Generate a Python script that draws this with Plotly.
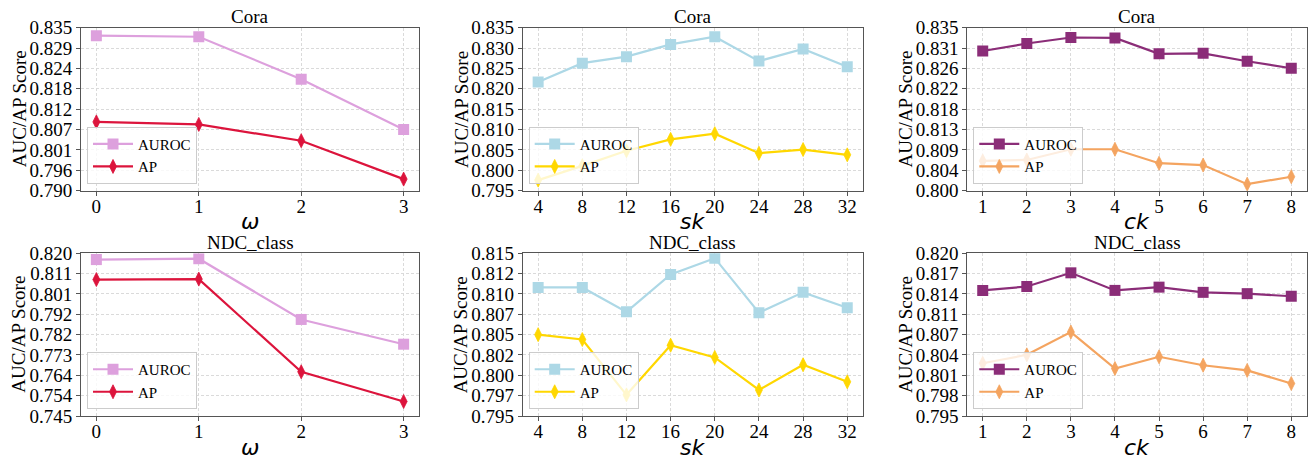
import numpy as np
import plotly.graph_objects as go

W, H = 1312, 460

# ---------------- data ----------------
omega = [0, 1, 2, 3]
sk = [4, 8, 12, 16, 20, 24, 28, 32]
ck = [1, 2, 3, 4, 5, 6, 7, 8]

cora_omega_auroc = [0.8328, 0.8325, 0.8208, 0.8069]
cora_omega_ap = [0.8090, 0.8083, 0.8038, 0.7932]
ndc_omega_auroc = [0.8171, 0.8175, 0.7895, 0.7781]
ndc_omega_ap = [0.8079, 0.8081, 0.7654, 0.7517]

cora_sk_auroc = [0.8217, 0.8263, 0.8279, 0.8309, 0.8328, 0.8268, 0.8298, 0.8254]
cora_sk_ap = [0.7976, 0.8011, 0.8048, 0.8076, 0.8090, 0.8042, 0.8051, 0.8038]
ndc_sk_auroc = [0.8108, 0.8108, 0.8078, 0.8124, 0.8144, 0.8077, 0.8102, 0.8083]
ndc_sk_ap = [0.8050, 0.8044, 0.7976, 0.8037, 0.8022, 0.7982, 0.8013, 0.7992]

cora_ck_auroc = [0.8300, 0.8316, 0.8329, 0.8328, 0.8294, 0.8295, 0.8278, 0.8263]
cora_ck_ap = [0.8064, 0.8066, 0.8089, 0.8089, 0.8059, 0.8055, 0.8014, 0.8030]
ndc_ck_auroc = [0.8143, 0.8149, 0.8170, 0.8143, 0.8148, 0.8140, 0.8138, 0.8134]
ndc_ck_ap = [0.8031, 0.8044, 0.8079, 0.8023, 0.8041, 0.8028, 0.8020, 0.8000]

ytick_cora_omega = ["0.790", "0.796", "0.801", "0.807", "0.812", "0.818", "0.824", "0.829", "0.835"]
ytick_ndc_omega = ["0.745", "0.754", "0.764", "0.773", "0.782", "0.792", "0.801", "0.811", "0.820"]
ytick_cora_sk = ["0.795", "0.800", "0.805", "0.810", "0.815", "0.820", "0.825", "0.830", "0.835"]
ytick_ndc_sk = ["0.795", "0.797", "0.800", "0.802", "0.805", "0.807", "0.810", "0.812", "0.815"]
ytick_cora_ck = ["0.800", "0.804", "0.809", "0.813", "0.818", "0.822", "0.826", "0.831", "0.835"]
ytick_ndc_ck = ["0.795", "0.798", "0.801", "0.804", "0.807", "0.811", "0.814", "0.817", "0.820"]

yranges = {
    "cora_omega": (0.790, 0.835), "ndc_omega": (0.745, 0.820),
    "cora_sk": (0.795, 0.835), "ndc_sk": (0.795, 0.815),
    "cora_ck": (0.800, 0.835), "ndc_ck": (0.795, 0.820),
}

# ---------------- layout geometry (pixels) ----------------
col_px = [(81, 419), (522.7, 862.7), (967.3, 1306.7)]
row_px = [(27.7, 190.7), (253.3, 416.0)]

SERIF = "Liberation Serif, Times New Roman, serif"
MATH = "DejaVu Sans, sans-serif"

panels = [
    (0, 0, "Cora", omega, "ω", cora_omega_auroc, cora_omega_ap, "#DDA0DD", "#DC143C", ytick_cora_omega, "cora_omega"),
    (0, 1, "Cora", sk, "sk", cora_sk_auroc, cora_sk_ap, "#ADD8E6", "#FFD700", ytick_cora_sk, "cora_sk"),
    (0, 2, "Cora", ck, "ck", cora_ck_auroc, cora_ck_ap, "#8B2D78", "#F4A460", ytick_cora_ck, "cora_ck"),
    (1, 0, "NDC_class", omega, "ω", ndc_omega_auroc, ndc_omega_ap, "#DDA0DD", "#DC143C", ytick_ndc_omega, "ndc_omega"),
    (1, 1, "NDC_class", sk, "sk", ndc_sk_auroc, ndc_sk_ap, "#ADD8E6", "#FFD700", ytick_ndc_sk, "ndc_sk"),
    (1, 2, "NDC_class", ck, "ck", ndc_ck_auroc, ndc_ck_ap, "#8B2D78", "#F4A460", ytick_ndc_ck, "ndc_ck"),
]

fig = go.Figure()
layout = dict(
    width=W, height=H, margin=dict(l=0, r=0, t=0, b=0, autoexpand=False),
    paper_bgcolor="white", plot_bgcolor="white", showlegend=True,
    font=dict(family=SERIF, size=19, color="black"),
)
annotations = []


def px_x(p):
    return p / W


def px_y(p):
    return 1 - p / H


for i, (r, c, title, xs, xlab, auc, ap, colA, colB, yt, key) in enumerate(panels):
    n = i + 1
    xa = "x" if n == 1 else f"x{n}"
    ya = "y" if n == 1 else f"y{n}"
    lg = "legend" if n == 1 else f"legend{n}"
    x0, x1 = col_px[c]
    y0, y1 = row_px[r]
    span = xs[-1] - xs[0]
    xr = [xs[0] - 0.05 * span, xs[-1] + 0.05 * span]
    ymin, ymax = yranges[key]
    tv = list(np.linspace(ymin, ymax, len(yt)))

    fig.add_trace(go.Scatter(
        x=xs, y=auc, mode="lines+markers", name="AUROC", xaxis=xa, yaxis=ya, legend=lg,
        line=dict(color=colA, width=2.2),
        marker=dict(symbol="square", size=11, color=colA, line=dict(width=0)),
    ))
    fig.add_trace(go.Scatter(
        x=xs, y=ap, mode="lines+markers", name="AP", xaxis=xa, yaxis=ya, legend=lg,
        line=dict(color=colB, width=2.2),
        marker=dict(symbol="diamond-tall", size=10, color=colB, line=dict(width=0.8, color=colB)),
    ))

    axis_common = dict(
        showline=True, linecolor="#555555", linewidth=1, mirror=True,
        showgrid=True, gridcolor="#dadada", griddash="3px,2px", gridwidth=0.8,
        zeroline=False, ticks="outside", ticklen=4, tickcolor="#555555",
        tickfont=dict(family=SERIF, size=19, color="black"), automargin=False,
    )
    layout["xaxis" if n == 1 else f"xaxis{n}"] = dict(
        domain=[px_x(x0), px_x(x1)], anchor=ya, range=xr,
        tickvals=xs, ticktext=[str(v) for v in xs], ticklabelstandoff=-6, **axis_common,
    )
    layout["yaxis" if n == 1 else f"yaxis{n}"] = dict(
        domain=[px_y(y1), px_y(y0)], anchor=xa, range=[ymin, ymax],
        tickvals=tv, ticktext=yt, **axis_common,
    )
    layout[lg] = dict(
        x=px_x(x0 + 6), y=px_y(y1 - 7), xanchor="left", yanchor="bottom",
        bgcolor="rgba(255,255,255,0.8)", bordercolor="#cccccc", borderwidth=1,
        font=dict(family=SERIF, size=15, color="black"), tracegroupgap=0,
        itemwidth=40,
    )

    cx = (x0 + x1) / 2
    annotations.append(dict(text=title, x=px_x(cx), y=px_y(y0 - 11), xref="paper", yref="paper",
                            xanchor="center", yanchor="middle", showarrow=False,
                            font=dict(family=SERIF, size=19, color="black")))
    annotations.append(dict(text=f"<i>{xlab}</i>", x=px_x(cx), y=px_y(y1 + 31), xref="paper", yref="paper",
                            xanchor="center", yanchor="middle", showarrow=False,
                            font=dict(family=MATH, size=22, color="black")))
    annotations.append(dict(text="AUC/AP Score", x=px_x(x0 - 62), y=px_y((y0 + y1) / 2), xref="paper", yref="paper",
                            xanchor="center", yanchor="middle", showarrow=False, textangle=-90,
                            font=dict(family=SERIF, size=19, color="black")))

layout["annotations"] = annotations
fig.update_layout(**layout)
fig.write_html("out.html", config={"displayModeBar": False},
               post_script="document.body.style.margin='0';document.body.style.overflow='hidden';")
